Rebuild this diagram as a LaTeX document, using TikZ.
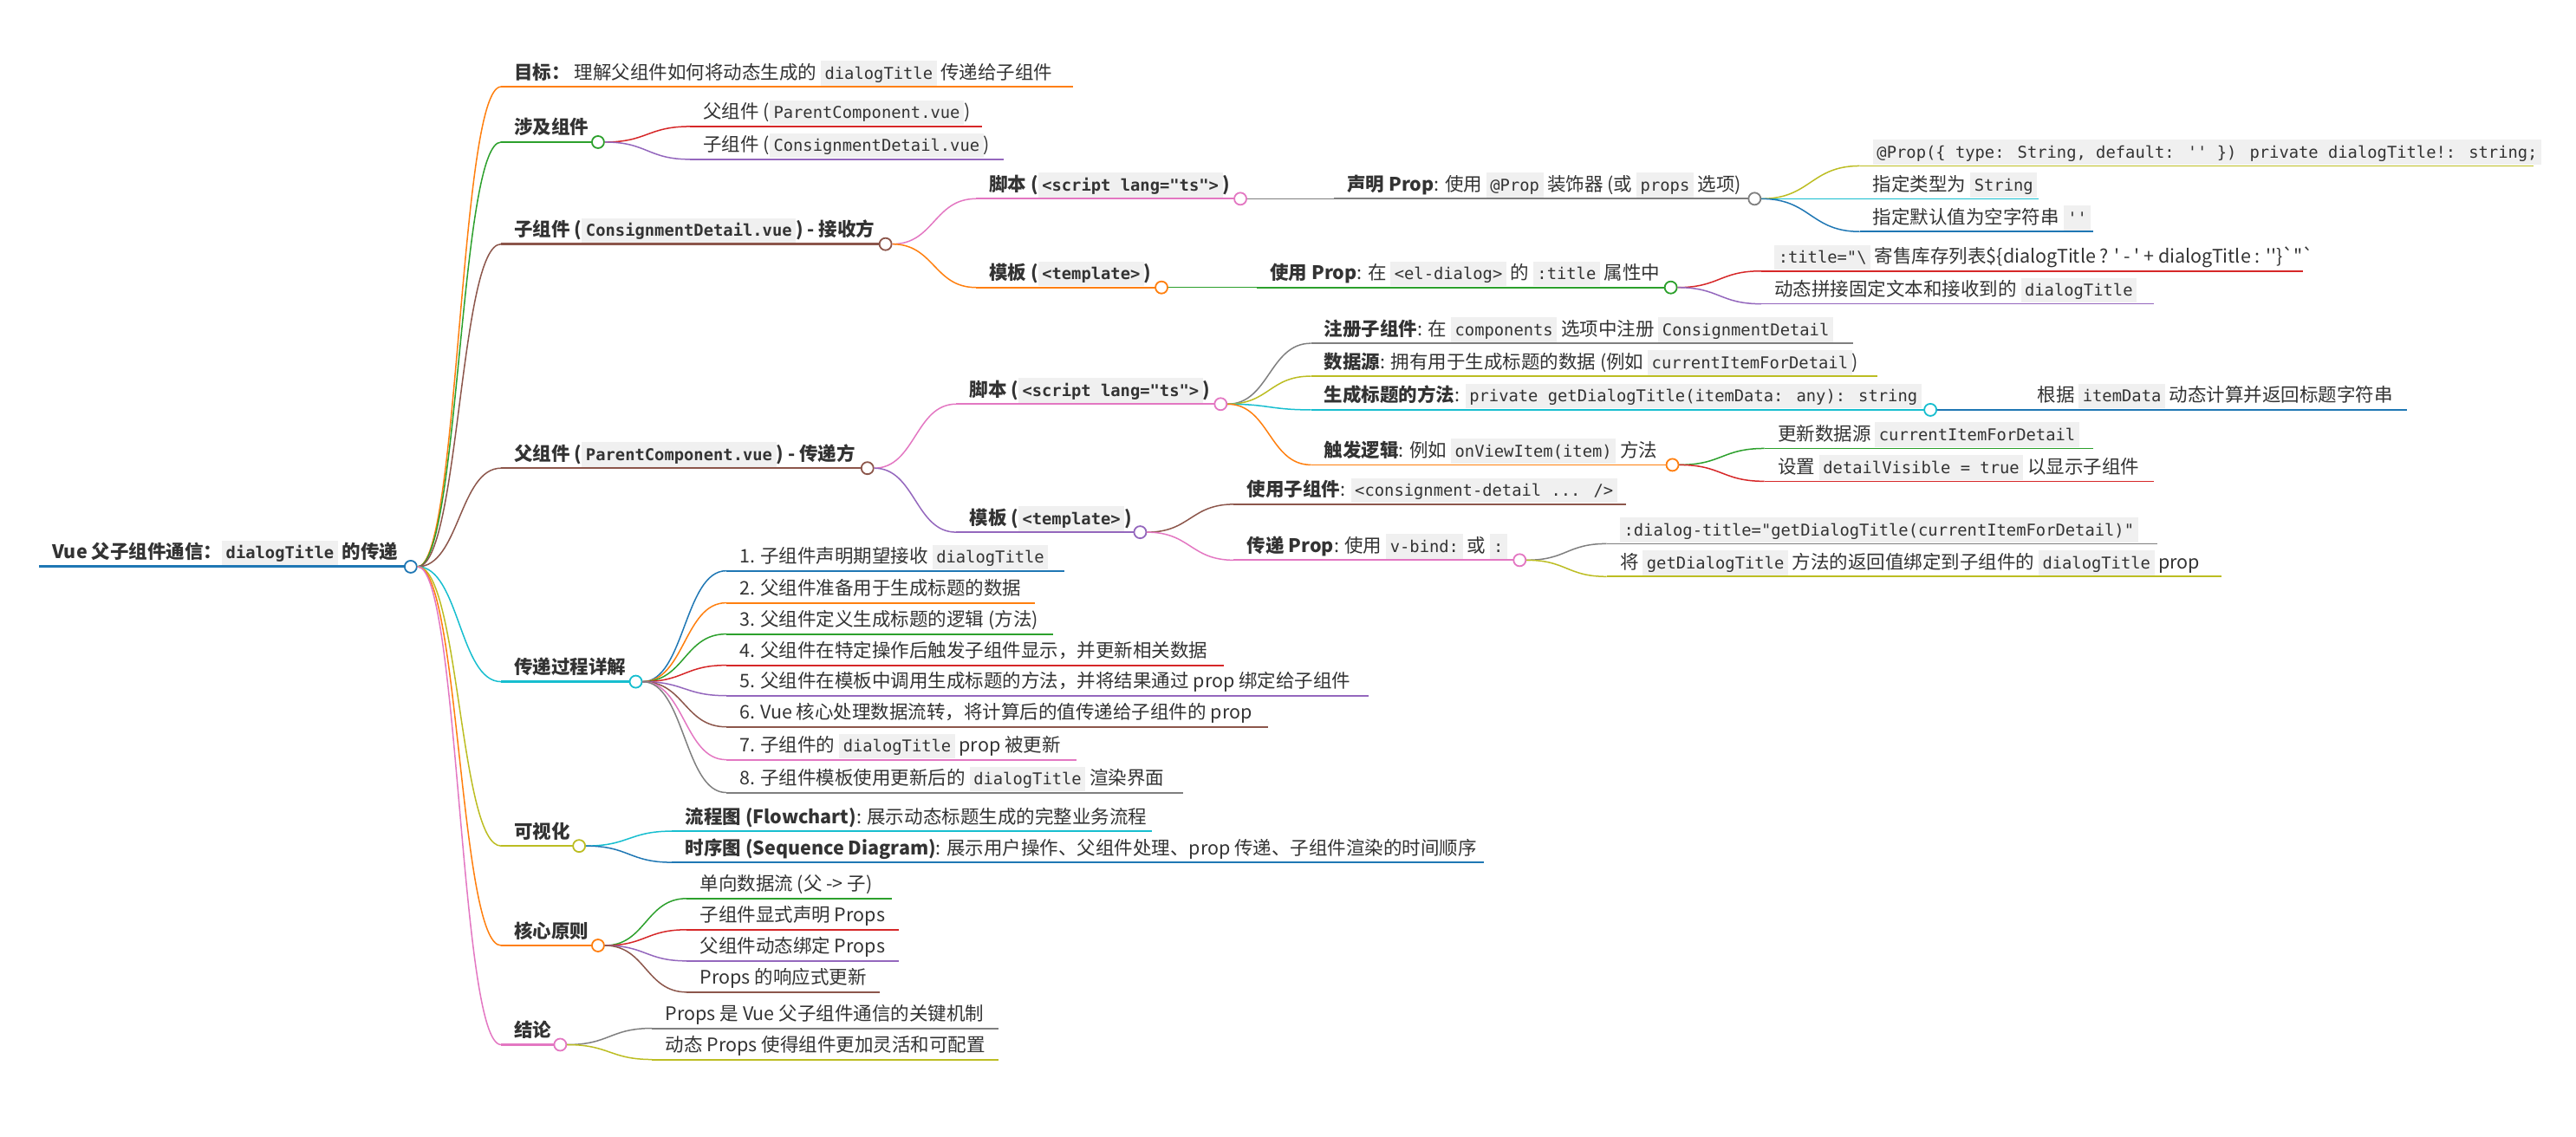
\documentclass[tikz,border=0pt]{standalone}
\usepackage{fontspec}
\newfontfamily\plainfont{Noto Sans CJK SC}
\newfontfamily\codefont{DejaVu Sans Mono}
\usetikzlibrary{calc}
\definecolor{cblue}{HTML}{1F77B4}
\definecolor{corange}{HTML}{FF7F0E}
\definecolor{cgreen}{HTML}{2CA02C}
\definecolor{cred}{HTML}{D62728}
\definecolor{cpurple}{HTML}{9467BD}
\definecolor{cbrown}{HTML}{8C564B}
\definecolor{cpink}{HTML}{E377C2}
\definecolor{cgrey}{HTML}{7F7F7F}
\definecolor{colive}{HTML}{BCBD22}
\definecolor{ccyan}{HTML}{17BECF}
\definecolor{codebg}{HTML}{F0F0F0}
\definecolor{textc}{HTML}{333333}
\newcommand\dq{\char"22\relax}
\newcommand\sq{\char"27\relax}
\newcommand\bq{\char"60\relax}
\newcommand{\cd}[1]{{\setlength{\fboxsep}{0pt}\colorbox{codebg}{\rule[-7.5pt]{0pt}{28.5pt}\hspace{4.5pt}{\codefont\fontsize{18.8}{20}\selectfont #1}\hspace{4.5pt}}}}
\tikzset{
  txt/.style={anchor=base west, inner sep=0pt, yshift=9pt, text=textc, font=\plainfont\fontsize{21.5}{24}\selectfont},
  dot/.style={circle, draw=#1, fill=white, line width=1.8pt, minimum size=14pt, inner sep=0pt},
}
% name, colour, underline width, x start, x end, y, text
\newcommand\mmnode[7]{%
  \coordinate (#1-s) at (#4,#6);
  \coordinate (#1-e) at (#5,#6);
  \draw[#2, line width=#3] (#1-s) -- (#1-e);
  \node[txt] (#1) at ($(#1-s)+(8,0)$) {#7};
}
\newcommand\mmdot[2]{\node[dot=#2] (#1-c) at (#1-e) {};}
\newcommand\mmlink[3]{\draw[#1, line width=1.5pt] let \p1=(#2-c.east), \p2=(#3-s) in (\p1) .. controls ({(\x1+\x2)/2},\y1) and ({(\x1+\x2)/2},\y2) .. (\p2);}
\begin{document}
\begin{tikzpicture}[x=1.8954pt, y=-1.8954pt]
\useasboundingbox (0,0) rectangle (1568,692);
% root
\mmnode{root}{cblue}{3pt}{24}{250}{345}{\textbf{Vue 父子组件通信：\cd{dialogTitle} 的传递}}
% level 1
\mmnode{goal}{corange}{2.4pt}{305}{653}{52.8}{\textbf{目标：} 理解父组件如何将动态生成的 \cd{dialogTitle} 传递给子组件}
\mmnode{inv}{cgreen}{2.4pt}{305}{364}{86.5}{\textbf{涉及组件}}
\mmnode{inv1}{cred}{2pt}{420}{598}{77}{父组件 (\cd{ParentComponent.vue})}
\mmnode{inv2}{cpurple}{2pt}{420}{611}{97}{子组件 (\cd{ConsignmentDetail.vue})}
\mmnode{child}{cbrown}{2.4pt}{305}{539}{148.6}{\textbf{子组件 (\cd{ConsignmentDetail.vue}) - 接收方}}
\mmnode{cs}{cpink}{2pt}{594}{755}{121}{\textbf{脚本 (\cd{<script lang=\dq ts\dq>})}}
\mmnode{decl}{cgrey}{1.8pt}{812}{1068}{121}{\textbf{声明 Prop}: 使用 \cd{@Prop} 装饰器 (或 \cd{props} 选项)}
\mmnode{d1}{colive}{1.6pt}{1132}{1542}{101}{\cd{@Prop(\{ type: String, default: \sq\sq\ \}) private dialogTitle!: string;}}
\mmnode{d2}{ccyan}{1.6pt}{1132}{1241}{121}{指定类型为 \cd{String}}
\mmnode{d3}{cblue}{1.6pt}{1132}{1274}{141}{指定默认值为空字符串 \cd{\sq\sq}}
\mmnode{ct}{corange}{2pt}{594}{707}{175}{\textbf{模板 (\cd{<template>})}}
\mmnode{use}{cgreen}{1.8pt}{765}{1017}{175}{\textbf{使用 Prop}: 在 \cd{<el-dialog>} 的 \cd{:title} 属性中}
\mmnode{u1}{cred}{1.6pt}{1072}{1402}{165}{\cd{:title=\dq\textbackslash} 寄售库存列表\$\{dialogTitle ? \sq\ -\ \sq\ + dialogTitle : \sq\sq\}\bq\dq\bq}
\mmnode{u2}{cpurple}{1.6pt}{1072}{1311}{185}{动态拼接固定文本和接收到的 \cd{dialogTitle}}
\mmnode{parent}{cbrown}{2.4pt}{305}{528}{285}{\textbf{父组件 (\cd{ParentComponent.vue}) - 传递方}}
\mmnode{ps}{cpink}{2pt}{582}{743}{246}{\textbf{脚本 (\cd{<script lang=\dq ts\dq>})}}
\mmnode{p1}{cgrey}{1.8pt}{798}{1128}{209}{\textbf{注册子组件}: 在 \cd{components} 选项中注册 \cd{ConsignmentDetail}}
\mmnode{p2}{colive}{1.8pt}{798}{1143}{229}{\textbf{数据源}: 拥有用于生成标题的数据 (例如 \cd{currentItemForDetail})}
\mmnode{p3}{ccyan}{1.8pt}{798}{1175}{249.5}{\textbf{生成标题的方法}: \cd{private getDialogTitle(itemData: any): string}}
\mmnode{p3a}{cblue}{1.6pt}{1232}{1465}{249.5}{根据 \cd{itemData} 动态计算并返回标题字符串}
\mmnode{p4}{corange}{1.8pt}{798}{1018}{283}{\textbf{触发逻辑}: 例如 \cd{onViewItem(item)} 方法}
\mmnode{p4a}{cgreen}{1.6pt}{1074}{1274}{273}{更新数据源 \cd{currentItemForDetail}}
\mmnode{p4b}{cred}{1.6pt}{1074}{1311}{293}{设置 \cd{detailVisible = true} 以显示子组件}
\mmnode{pt}{cpurple}{2pt}{582}{694}{324}{\textbf{模板 (\cd{<template>})}}
\mmnode{t1}{cbrown}{1.8pt}{751}{990}{307}{\textbf{使用子组件}: \cd{<consignment-detail ... />}}
\mmnode{t2}{cpink}{1.8pt}{751}{925}{341}{\textbf{传递 Prop}: 使用 \cd{v-bind:} 或 \cd{:}}
\mmnode{t2a}{cgrey}{1.6pt}{978}{1313}{331}{\cd{:dialog-title=\dq getDialogTitle(currentItemForDetail)\dq}}
\mmnode{t2b}{colive}{1.6pt}{978}{1352}{351}{将 \cd{getDialogTitle} 方法的返回值绑定到子组件的 \cd{dialogTitle} prop}
\mmnode{flow}{ccyan}{2.4pt}{305}{387}{415}{\textbf{传递过程详解}}
\mmnode{i1}{cblue}{2pt}{442}{648}{347.5}{1. 子组件声明期望接收 \cd{dialogTitle}}
\mmnode{i2}{corange}{2pt}{442}{630}{367}{2. 父组件准备用于生成标题的数据}
\mmnode{i3}{cgreen}{2pt}{442}{641}{386}{3. 父组件定义生成标题的逻辑 (方法)}
\mmnode{i4}{cred}{2pt}{442}{745}{405}{4. 父组件在特定操作后触发子组件显示，并更新相关数据}
\mmnode{i5}{cpurple}{2pt}{442}{833}{423.5}{5. 父组件在模板中调用生成标题的方法，并将结果通过 prop 绑定给子组件}
\mmnode{i6}{cbrown}{2pt}{442}{772}{442.5}{6. Vue 核心处理数据流转，将计算后的值传递给子组件的 prop}
\mmnode{i7}{cpink}{2pt}{442}{655}{462.5}{7. 子组件的 \cd{dialogTitle} prop 被更新}
\mmnode{i8}{cgrey}{2pt}{442}{720}{482.5}{8. 子组件模板使用更新后的 \cd{dialogTitle} 渲染界面}
\mmnode{vis}{colive}{2.4pt}{305}{352.5}{515}{\textbf{可视化}}
\mmnode{v1}{ccyan}{2pt}{409}{701}{506}{\textbf{流程图 (Flowchart)}: 展示动态标题生成的完整业务流程}
\mmnode{v2}{cblue}{2pt}{409}{903}{525}{\textbf{时序图 (Sequence Diagram)}: 展示用户操作、父组件处理、prop 传递、子组件渲染的时间顺序}
\mmnode{core}{corange}{2.4pt}{305}{364}{575.6}{\textbf{核心原则}}
\mmnode{c1}{cgreen}{2pt}{418}{543}{547}{单向数据流 (父 -> 子)}
\mmnode{c2}{cred}{2pt}{418}{547}{566}{子组件显式声明 Props}
\mmnode{c3}{cpurple}{2pt}{418}{547}{585}{父组件动态绑定 Props}
\mmnode{c4}{cbrown}{2pt}{418}{535.5}{604}{Props 的响应式更新}
\mmnode{concl}{cpink}{2.4pt}{305}{341}{636}{\textbf{结论}}
\mmnode{k1}{cgrey}{2pt}{397}{608}{626}{Props 是 Vue 父子组件通信的关键机制}
\mmnode{k2}{colive}{2pt}{397}{608}{645}{动态 Props 使得组件更加灵活和可配置}
% circles
\mmdot{root}{cblue}
\mmdot{inv}{cgreen}
\mmdot{child}{cbrown}
\mmdot{cs}{cpink}
\mmdot{decl}{cgrey}
\mmdot{ct}{corange}
\mmdot{use}{cgreen}
\mmdot{parent}{cbrown}
\mmdot{ps}{cpink}
\mmdot{p3}{ccyan}
\mmdot{p4}{corange}
\mmdot{pt}{cpurple}
\mmdot{t2}{cpink}
\mmdot{flow}{ccyan}
\mmdot{vis}{colive}
\mmdot{core}{corange}
\mmdot{concl}{cpink}
% links
\mmlink{corange}{root}{goal}
\mmlink{cgreen}{root}{inv}
\mmlink{cbrown}{root}{child}
\mmlink{cbrown}{root}{parent}
\mmlink{ccyan}{root}{flow}
\mmlink{colive}{root}{vis}
\mmlink{corange}{root}{core}
\mmlink{cpink}{root}{concl}
\mmlink{cred}{inv}{inv1}
\mmlink{cpurple}{inv}{inv2}
\mmlink{cpink}{child}{cs}
\mmlink{corange}{child}{ct}
\mmlink{cgrey}{cs}{decl}
\mmlink{colive}{decl}{d1}
\mmlink{ccyan}{decl}{d2}
\mmlink{cblue}{decl}{d3}
\mmlink{cgreen}{ct}{use}
\mmlink{cred}{use}{u1}
\mmlink{cpurple}{use}{u2}
\mmlink{cpink}{parent}{ps}
\mmlink{cpurple}{parent}{pt}
\mmlink{cgrey}{ps}{p1}
\mmlink{colive}{ps}{p2}
\mmlink{ccyan}{ps}{p3}
\mmlink{corange}{ps}{p4}
\mmlink{cblue}{p3}{p3a}
\mmlink{cgreen}{p4}{p4a}
\mmlink{cred}{p4}{p4b}
\mmlink{cbrown}{pt}{t1}
\mmlink{cpink}{pt}{t2}
\mmlink{cgrey}{t2}{t2a}
\mmlink{colive}{t2}{t2b}
\mmlink{cblue}{flow}{i1}
\mmlink{corange}{flow}{i2}
\mmlink{cgreen}{flow}{i3}
\mmlink{cred}{flow}{i4}
\mmlink{cpurple}{flow}{i5}
\mmlink{cbrown}{flow}{i6}
\mmlink{cpink}{flow}{i7}
\mmlink{cgrey}{flow}{i8}
\mmlink{ccyan}{vis}{v1}
\mmlink{cblue}{vis}{v2}
\mmlink{cgreen}{core}{c1}
\mmlink{cred}{core}{c2}
\mmlink{cpurple}{core}{c3}
\mmlink{cbrown}{core}{c4}
\mmlink{cgrey}{concl}{k1}
\mmlink{colive}{concl}{k2}
\end{tikzpicture}
\end{document}
